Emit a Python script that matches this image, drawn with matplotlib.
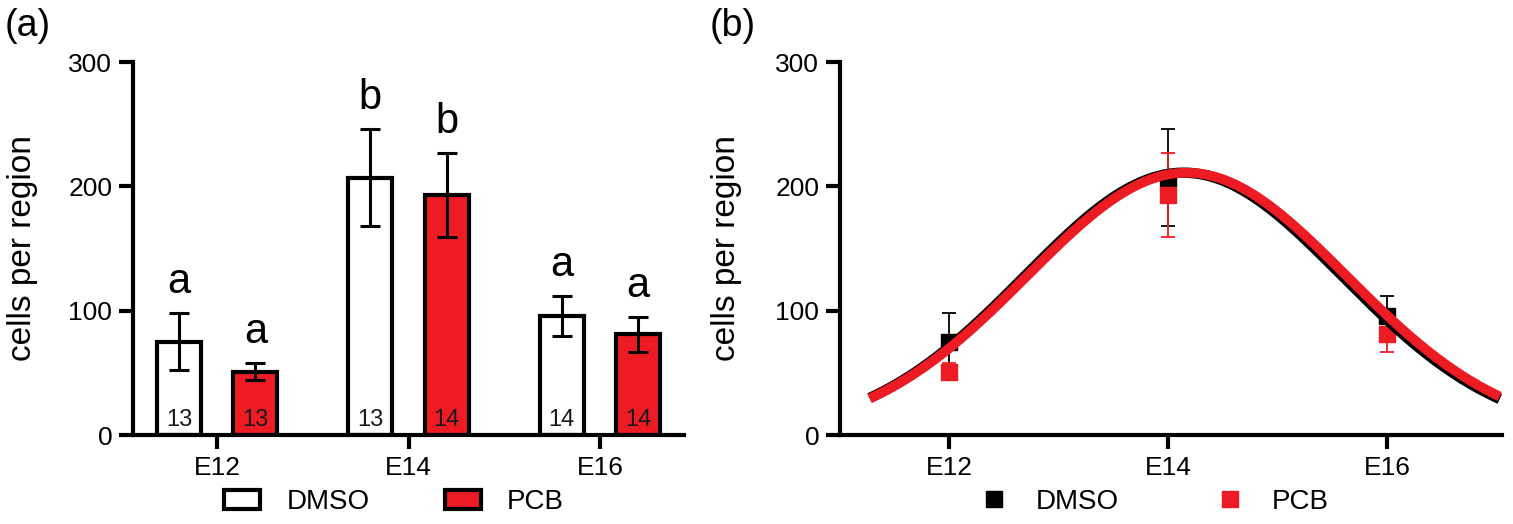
import numpy as np
import matplotlib
matplotlib.use("Agg")
import matplotlib.pyplot as plt
from matplotlib.patches import Patch
from matplotlib.lines import Line2D

plt.rcParams["font.family"] = ["Liberation Sans", "DejaVu Sans"]

# Data

ages = ["E12", "E14", "E16"]
age_days = [12, 14, 16]

dmso_mean = [75, 207, 96]
dmso_sem = [23, 39, 16]
pcb_mean = [51, 193, 81]
pcb_sem = [7, 34, 14]

dmso_n = [13, 13, 14]
pcb_n = [13, 14, 14]
dmso_letters = ["a", "b", "a"]
pcb_letters = ["a", "b", "a"]

# Gaussian fit: amplitude, centre (day), sd (days)
fit_dmso = [211, 14.14, 1.45]
fit_pcb = [211, 14.17, 1.46]
fit_range = [11.27, 17.03]

RED = "#ED1C24"
LW = 3.0


def style_axes(ax):
    ax.spines["top"].set_visible(False)
    ax.spines["right"].set_visible(False)
    ax.spines["left"].set_linewidth(LW)
    ax.spines["bottom"].set_linewidth(LW)
    ax.tick_params(width=LW, length=10, labelsize=19, pad=5)
    ax.set_ylim(0, 300)
    ax.set_yticks([0, 100, 200, 300])
    ax.set_ylabel("cells per region", fontsize=24)


fig = plt.figure(figsize=(15.13, 5.24), dpi=100)

# Panel (a): grouped bars

ax1 = fig.add_axes([0.0879, 0.1698, 0.3642, 0.7118])
x = np.arange(len(ages))
off = 0.2
w = 0.23

ax1.bar(x - off, dmso_mean, w, color="white", edgecolor="black", linewidth=LW, zorder=2)
ax1.bar(x + off, pcb_mean, w, color=RED, edgecolor="black", linewidth=LW, zorder=2)
ax1.errorbar(x - off, dmso_mean, yerr=dmso_sem, fmt="none", ecolor="black",
             elinewidth=2.2, capsize=7, capthick=2.2, zorder=3)
ax1.errorbar(x + off, pcb_mean, yerr=pcb_sem, fmt="none", ecolor="black",
             elinewidth=2.2, capsize=7, capthick=2.2, zorder=3)

for i in range(len(ages)):
    ax1.text(x[i] - off, dmso_mean[i] + dmso_sem[i] + 16, dmso_letters[i],
             ha="center", va="baseline", fontsize=30)
    ax1.text(x[i] + off, pcb_mean[i] + pcb_sem[i] + 16, pcb_letters[i],
             ha="center", va="baseline", fontsize=30)
    ax1.text(x[i] - off, 7, str(dmso_n[i]), ha="center", va="baseline",
             fontsize=17, color="#1a1a1a", zorder=4)
    ax1.text(x[i] + off, 7, str(pcb_n[i]), ha="center", va="baseline",
             fontsize=17, color="#1a1a1a", zorder=4)

style_axes(ax1)
ax1.set_xlim(-0.44, 2.44)
ax1.set_xticks(x)
ax1.set_xticklabels(ages)
ax1.yaxis.set_label_coords(-0.172, 0.5)

handles_a = [
    Patch(facecolor="white", edgecolor="black", linewidth=LW, label="DMSO"),
    Patch(facecolor=RED, edgecolor="black", linewidth=LW, label="PCB"),
]
ax1.legend(handles=handles_a, loc="center", bbox_to_anchor=(0.474, -0.18),
           ncol=2, frameon=False, fontsize=20, handlelength=1.3,
           handleheight=0.65, handletextpad=0.95, columnspacing=2.7)

# Panel (b): points with Gaussian fit

ax2 = fig.add_axes([0.5552, 0.1698, 0.4375, 0.7118])
xx = np.linspace(fit_range[0], fit_range[1], 300)
y_dmso = fit_dmso[0] * np.exp(-(xx - fit_dmso[1]) ** 2 / (2 * fit_dmso[2] ** 2))
y_pcb = fit_pcb[0] * np.exp(-(xx - fit_pcb[1]) ** 2 / (2 * fit_pcb[2] ** 2))

ax2.errorbar(age_days, dmso_mean, yerr=dmso_sem, fmt="s", color="black",
             markersize=11, elinewidth=1.3, capsize=5, capthick=1.3, zorder=2)
ax2.errorbar(age_days, pcb_mean, yerr=pcb_sem, fmt="s", color=RED,
             markersize=11, elinewidth=1.3, capsize=5, capthick=1.3, zorder=2)
ax2.plot(xx, y_dmso, color="black", linewidth=7.5, solid_capstyle="butt", zorder=3)
ax2.plot(xx, y_pcb, color=RED, linewidth=7, solid_capstyle="butt", zorder=4)

style_axes(ax2)
ax2.set_xlim(11.0, 17.05)
ax2.set_xticks(age_days)
ax2.set_xticklabels(ages)
ax2.yaxis.set_label_coords(-0.148, 0.5)

handles_b = [
    Line2D([], [], marker="s", linestyle="none", color="black", markersize=11, label="DMSO"),
    Line2D([], [], marker="s", linestyle="none", color=RED, markersize=11, label="PCB"),
]
ax2.legend(handles=handles_b, loc="center", bbox_to_anchor=(0.475, -0.18),
           ncol=2, frameon=False, fontsize=20, handlelength=1.0,
           handletextpad=1.0, columnspacing=3.5)

fig.text(0.003, 0.985, "(a)", fontsize=27, va="top", ha="left")
fig.text(0.469, 0.985, "(b)", fontsize=27, va="top", ha="left")

fig.savefig("out.png", dpi=100)
